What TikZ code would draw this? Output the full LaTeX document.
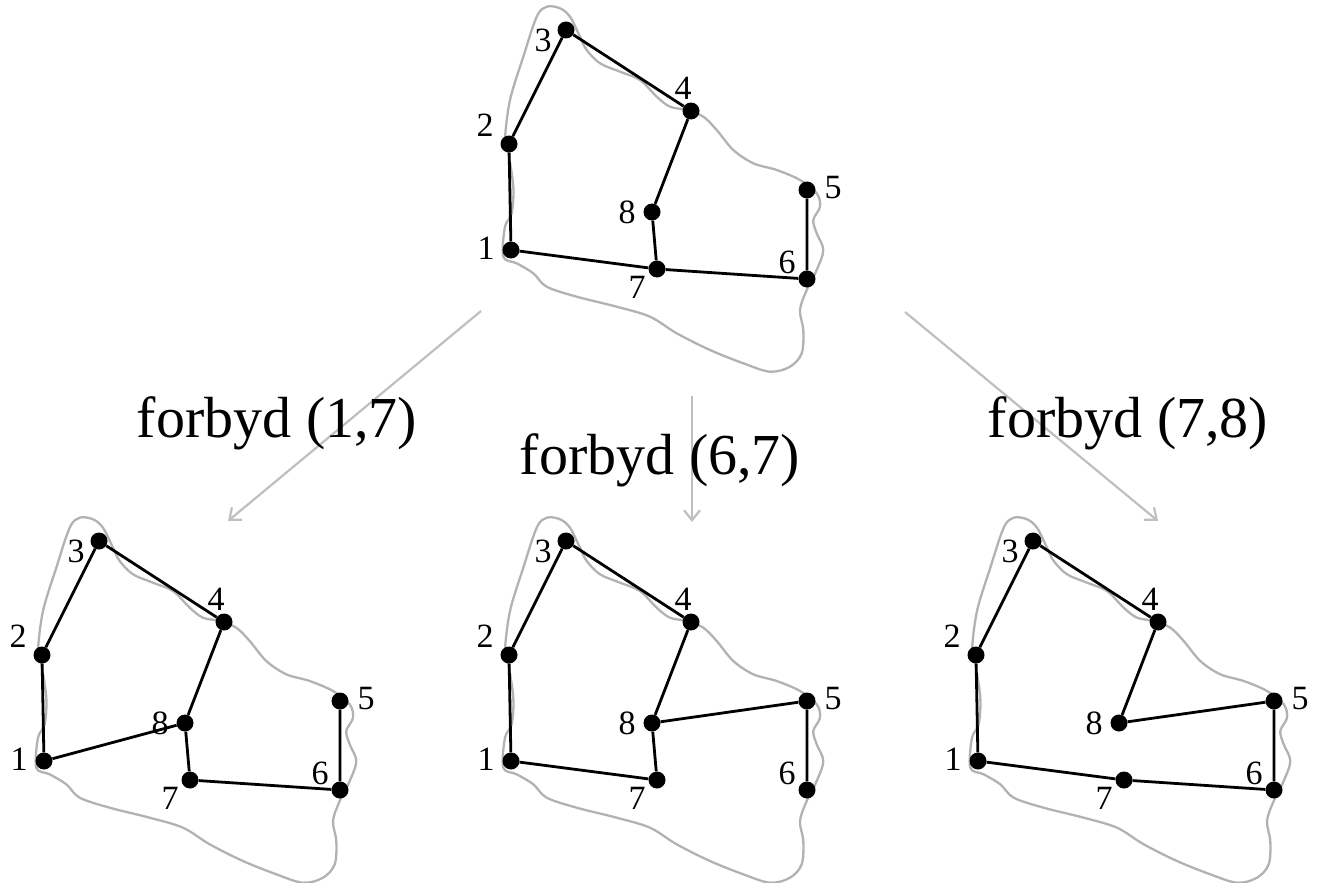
\documentclass[tikz,border=0pt]{standalone}
\usepackage{fontspec}
\setmainfont{Liberation Serif}
\usetikzlibrary{arrows.meta,calc}
\tikzset{
  dot/.style={circle,fill=black,inner sep=0pt,minimum size=17pt},
  edge/.style={line width=2.8pt,black},
  outline/.style={line width=2.3pt,draw=black!30},
  flow/.style={line width=2.2pt,draw=black!25,-{Straight Barb[length=10pt,width=16pt,line width=2.2pt]}},
  lbl/.style={inner sep=0pt,font=\fontsize{34}{34}\selectfont},
  caption/.style={inner sep=0pt,anchor=base,font=\fontsize{58}{58}\selectfont}
}
\newcommand\mygraph[3]{%
\begin{scope}[shift={(#2,#3)}]
  \draw[outline] plot[smooth cycle,tension=0.55] coordinates {
    (503.3,256.7) (505,226.7) (511.7,213.3) (513.3,186.7) (508.3,153.3) (505,140)
    (510,100) (523.3,56.7) (536.7,16.7) (546.7,6.7) (560,8.3) (570,16.7) (580,36.7)
    (586.7,50) (600,63.3) (620,71.7) (640,80) (656.7,96.7) (670,106.7) (686.7,110)
    (703.3,116.7) (716.7,130) (733.3,150) (753.3,163.3) (776.7,170) (800,180)
    (816.7,193.3) (820,206.7) (813.3,220) (816.7,233.3) (823.3,250) (816.7,270)
    (806.7,290) (800,310) (803.3,330) (801.7,353.3) (790,366.7) (770,371.7)
    (743.3,363.3) (710,350) (676.7,333.3) (650,316.7) (616.7,306.7) (576.7,296.7)
    (546.7,286.7) (533.3,273.3) (516.7,263.3)};
  \node[dot] (#1-1) at (511,250) {};
  \node[dot] (#1-2) at (509,144) {};
  \node[dot] (#1-3) at (566,30) {};
  \node[dot] (#1-4) at (691,111) {};
  \node[dot] (#1-5) at (807,190) {};
  \node[dot] (#1-6) at (807,279) {};
  \node[dot] (#1-7) at (657,269) {};
  \node[dot] (#1-8) at (652,212) {};
  \node[lbl] (#1-l1) at ($(#1-1)+(-25,-2)$) {1};
  \node[lbl] (#1-l2) at ($(#1-2)+(-24,-19)$) {2};
  \node[lbl] (#1-l3) at ($(#1-3)+(-23,10)$) {3};
  \node[lbl] (#1-l4) at ($(#1-4)+(-8,-23)$) {4};
  \node[lbl] (#1-l5) at ($(#1-5)+(26,-2)$) {5};
  \node[lbl] (#1-l6) at ($(#1-6)+(-20,-17)$) {6};
  \node[lbl] (#1-l7) at ($(#1-7)+(-20,18)$) {7};
  \node[lbl] (#1-l8) at ($(#1-8)+(-25,0)$) {8};
\end{scope}}
\begin{document}
\begin{tikzpicture}[x=1pt,y=-1pt]
\useasboundingbox (0,0) rectangle (1317,883);
% arrows
\coordinate (s1) at (481,311); \coordinate (e1) at (228,521);
\coordinate (s2) at (692,396); \coordinate (e2) at (692,522);
\coordinate (s3) at (905,312); \coordinate (e3) at (1158,521);
\draw[flow] (s1) -- (e1);
\draw[flow] (s2) -- (e2);
\draw[flow] (s3) -- (e3);
\node[caption] (c1) at (277,437) {forbyd (1,7)};
\node[caption] (c2) at (660,474) {forbyd (6,7)};
\node[caption] (c3) at (1128,437) {forbyd (7,8)};
% graphs
\mygraph{t}{0}{0}
\mygraph{a}{-467}{511}
\mygraph{b}{0}{511}
\mygraph{c}{467}{511}
\draw[edge] (t-1)--(t-2)--(t-3)--(t-4)--(t-8)--(t-7)--(t-1) (t-7)--(t-6)--(t-5);
\draw[edge] (a-1)--(a-2)--(a-3)--(a-4)--(a-8)--(a-7)--(a-6)--(a-5) (a-1)--(a-8);
\draw[edge] (b-1)--(b-2)--(b-3)--(b-4)--(b-8)--(b-7)--(b-1) (b-8)--(b-5)--(b-6);
\draw[edge] (c-1)--(c-2)--(c-3)--(c-4)--(c-8)--(c-5)--(c-6)--(c-7)--(c-1);
\end{tikzpicture}
\end{document}
